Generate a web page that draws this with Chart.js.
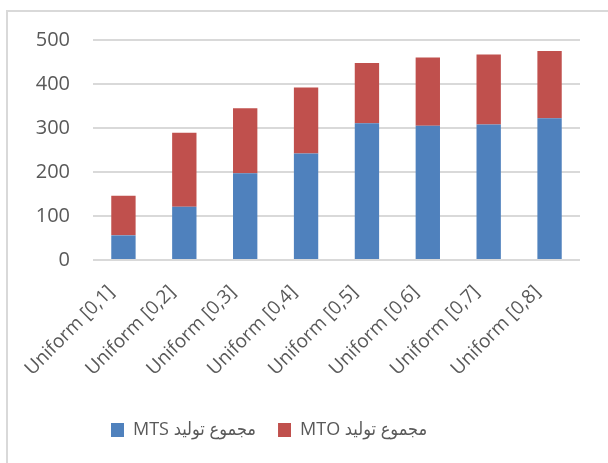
<!DOCTYPE html>
<html>
<head>
<meta charset="utf-8">
<script src="https://cdn.jsdelivr.net/npm/chart.js@4.4.1/dist/chart.umd.min.js"></script>
<style>
  html, body { margin: 0; padding: 0; background: #fff; overflow: hidden; }
  #wrap { position: relative; width: 608px; height: 463px; }
  #frame { position: absolute; left: 6px; top: 10px; width: 640px; height: 500px;
           border: 2px solid #d9d9d9; box-sizing: border-box; }
  #myBarChart { position: absolute; left: 0; top: 0; }
</style>
</head>
<body>
<div id="wrap">
  <div id="frame"></div>
  <canvas id="myBarChart" width="608" height="463"></canvas>
</div>
<script>
const categories = ['Uniform [0,1]', 'Uniform [0,2]', 'Uniform [0,3]', 'Uniform [0,4]',
                    'Uniform [0,5]', 'Uniform [0,6]', 'Uniform [0,7]', 'Uniform [0,8]'];
const mtsValues = [56, 121, 197, 242, 311, 305, 308, 322];
const mtoValues = [90, 168, 148, 150, 137, 155, 159, 153];
const seriesNames = ['MTS مجموع تولید', 'MTO مجموع تولید'];
const yTicks = [0, 100, 200, 300, 400, 500];

const textColor = '#595959';
const fontFamily = '"Open Sans", "DejaVu Sans", sans-serif';
const legendFamily = '"Open Sans", "DejaVu Sans Condensed", "DejaVu Sans", sans-serif';

const ctxBar = document.getElementById('myBarChart').getContext('2d');

// shift the legend row under the bars after the layout pass
const legendShift = {
    id: 'legendShift',
    afterLayout(chart) {
        const lg = chart.legend;
        if (!lg) return;
        const dx = 89 - lg.left;
        const dy = 399 - lg.top;
        lg.left += dx; lg.right += dx;
        lg.top += dy; lg.bottom += dy;
    }
};

const dataBar = {
    labels: categories,
    datasets: [{
        label: seriesNames[0],
        data: mtsValues,
        backgroundColor: '#4F81BD',
        barPercentage: 0.4,
        categoryPercentage: 1
    }, {
        label: seriesNames[1],
        data: mtoValues,
        backgroundColor: '#C0504D',
        barPercentage: 0.4,
        categoryPercentage: 1
    }]
};

const configBar = {
    type: 'bar',
    data: dataBar,
    options: {
        responsive: false,
        animation: false,
        layout: {
            padding: { left: 20, right: 28, top: 40, bottom: 0 }
        },
        scales: {
            x: {
                stacked: true,
                grid: { display: false },
                border: { display: false },
                ticks: {
                    color: textColor,
                    font: { family: fontFamily, size: 19 },
                    maxRotation: 45,
                    minRotation: 45,
                    padding: 13,
                    labelOffset: -12
                },
                afterFit: function (scale) {
                    scale.height = 153;
                }
            },
            y: {
                stacked: true,
                min: 0,
                max: 500,
                afterBuildTicks: function (scale) {
                    scale.ticks = yTicks.map(v => ({ value: v }));
                },
                grid: { color: '#d9d9d9', lineWidth: 2, drawTicks: false },
                border: { display: false },
                ticks: {
                    color: textColor,
                    font: { family: fontFamily, size: 20 },
                    padding: 23
                },
                afterFit: function (scale) {
                    scale.width = 73;
                }
            }
        },
        plugins: {
            legend: {
                position: 'bottom',
                align: 'start',
                labels: {
                    color: textColor,
                    font: { family: legendFamily, size: 18 },
                    boxWidth: 13,
                    boxHeight: 14,
                    padding: 22
                }
            },
            tooltip: { enabled: false }
        }
    },
    plugins: [legendShift]
};

new Chart(ctxBar, configBar);
</script>
</body>
</html>
